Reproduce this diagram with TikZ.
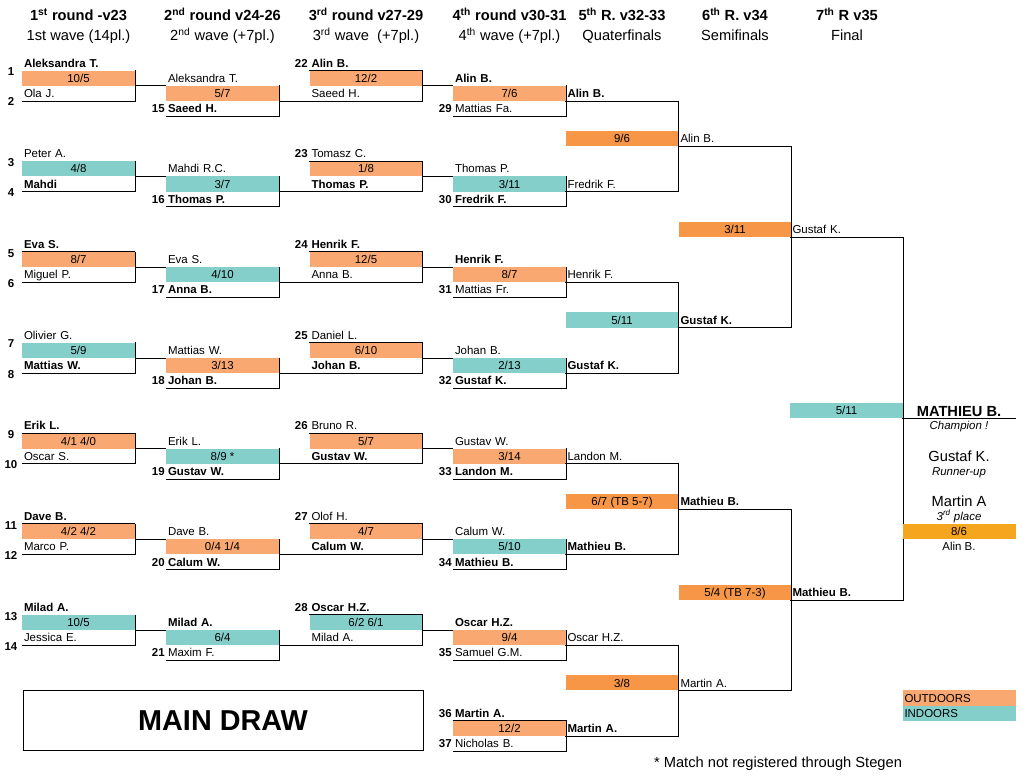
\documentclass[tikz,border=0pt]{standalone}
\usepackage{fontspec}
\setmainfont{Liberation Sans}
\usepackage{tikz}
\definecolor{MDPeach}{RGB}{248,168,112}
\definecolor{MDOrange}{RGB}{247,150,70}
\definecolor{MDTeal}{RGB}{133,207,203}
\definecolor{MDGold}{RGB}{246,165,30}
\newcommand{\namesize}{\fontsize{8.6pt}{10pt}\selectfont}
\newcommand{\headsize}{\fontsize{11pt}{13pt}\selectfont}
\newcommand{\matchbox}[7]{%
  \node[namecell] (#1t) at (#2,#3) {#5};
  \node[scorecell,fill=#4] (#1s) at (#2,#3+1) {#6};
  \node[namecell] (#1b) at (#2,#3+2) {#7};
  \draw[bline] (#1s.north east) -- (#1b.south east) -- (#1b.south west);
}

\begin{document}
\begin{tikzpicture}[x=0.75pt,y=-11.34pt,
    every node/.style={inner sep=0pt,font=\namesize},
    namecell/.style={minimum height=11.34pt,text width=81.75pt,inner xsep=1.5pt,align=left,text height=7.5pt,text depth=1.34pt},
    scorecell/.style={minimum width=84.75pt,minimum height=11.34pt,text height=7.5pt,text depth=1.34pt},
    seed/.style={font=\namesize\bfseries,text height=7.5pt,text depth=1.34pt},
    bline/.style={line width=0.75pt,black},
    head/.style={font=\headsize\bfseries,anchor=base},
    wave/.style={font=\headsize,anchor=base},
    podium/.style={font=\headsize,text height=9pt,text depth=1.12pt},
    note/.style={font=\namesize\itshape,text height=7.5pt,text depth=1.34pt}]
  \useasboundingbox (0,-4.167) rectangle (1030,47.62);

  \node[head] (h1) at (78.5,-2.8) {1\textsuperscript{st} round -v23};
  \node[head] (h2) at (222.5,-2.8) {2\textsuperscript{nd} round v24-26};
  \node[head] (h3) at (366,-2.8) {3\textsuperscript{rd} round v27-29};
  \node[head] (h4) at (509.5,-2.8) {4\textsuperscript{th} round v30-31};
  \node[head] (h5) at (622,-2.8) {5\textsuperscript{th} R. v32-33};
  \node[head] (h6) at (735,-2.8) {6\textsuperscript{th} R. v34};
  \node[head] (h7) at (847,-2.8) {7\textsuperscript{th} R v35};
  \node[wave] (w1) at (78.5,-1.475) {1st wave (14pl.)};
  \node[wave] (w2) at (222.5,-1.475) {2\textsuperscript{nd} wave (+7pl.)};
  \node[wave] (w3) at (366,-1.475) {3\textsuperscript{rd} wave\ \ (+7pl.)};
  \node[wave] (w4) at (509.5,-1.475) {4\textsuperscript{th} wave (+7pl.)};
  \node[wave] (w5) at (622,-1.475) {Quaterfinals};
  \node[wave] (w6) at (735,-1.475) {Semifinals};
  \node[wave] (w7) at (847,-1.475) {Final};

  \matchbox{r1a}{78.5}{0}{MDPeach}{\bfseries Aleksandra T.}{10/5}{Ola J.}
  \matchbox{r1b}{78.5}{6}{MDTeal}{Peter A.}{4/8}{\bfseries Mahdi}
  \matchbox{r1c}{78.5}{12}{MDPeach}{\bfseries Eva S.}{8/7}{Miguel P.}
  \matchbox{r1d}{78.5}{18}{MDTeal}{Olivier G.}{5/9}{\bfseries Mattias W.}
  \matchbox{r1e}{78.5}{24}{MDPeach}{\bfseries Erik L.}{4/1 4/0}{Oscar S.}
  \matchbox{r1f}{78.5}{30}{MDPeach}{\bfseries Dave B.}{4/2 4/2}{Marco P.}
  \matchbox{r1g}{78.5}{36}{MDTeal}{\bfseries Milad A.}{10/5}{Jessica E.}
  \draw[bline] (r1cs.north west) -- (r1cs.north east);
  \draw[bline] (r1es.north west) -- (r1es.north east);
  \draw[bline] (r1fs.north west) -- (r1fs.north east);
  \node[seed] (s1) at (11,0.57) {1};
  \node[seed] (s2) at (11,2.57) {2};
  \node[seed] (s3) at (11,6.57) {3};
  \node[seed] (s4) at (11,8.57) {4};
  \node[seed] (s5) at (11,12.57) {5};
  \node[seed] (s6) at (11,14.57) {6};
  \node[seed] (s7) at (11,18.57) {7};
  \node[seed] (s8) at (11,20.57) {8};
  \node[seed] (s9) at (11,24.57) {9};
  \node[seed] (s10) at (11,26.57) {10};
  \node[seed] (s11) at (11,30.57) {11};
  \node[seed] (s12) at (11,32.57) {12};
  \node[seed] (s13) at (11,36.57) {13};
  \node[seed] (s14) at (11,38.57) {14};

  \matchbox{r2a}{222.5}{1}{MDPeach}{Aleksandra T.}{5/7}{\bfseries Saeed H.}
  \matchbox{r2b}{222.5}{7}{MDTeal}{Mahdi R.C.}{3/7}{\bfseries Thomas P.}
  \matchbox{r2c}{222.5}{13}{MDTeal}{Eva S.}{4/10}{\bfseries Anna B.}
  \matchbox{r2d}{222.5}{19}{MDPeach}{Mattias W.}{3/13}{\bfseries Johan B.}
  \matchbox{r2e}{222.5}{25}{MDTeal}{Erik L.}{8/9 *}{\bfseries Gustav W.}
  \matchbox{r2f}{222.5}{31}{MDPeach}{Dave B.}{0/4 1/4}{\bfseries Calum W.}
  \matchbox{r2g}{222.5}{37}{MDTeal}{\bfseries Milad A.}{6/4}{Maxim F.}
  \node[seed,anchor=east] (s15) at (165,3) {15};
  \node[seed,anchor=east] (s16) at (165,9) {16};
  \node[seed,anchor=east] (s17) at (165,15) {17};
  \node[seed,anchor=east] (s18) at (165,21) {18};
  \node[seed,anchor=east] (s19) at (165,27) {19};
  \node[seed,anchor=east] (s20) at (165,33) {20};
  \node[seed,anchor=east] (s21) at (165,39) {21};

  \matchbox{r3a}{366}{0}{MDPeach}{\bfseries Alin B.}{12/2}{Saeed H.}
  \matchbox{r3b}{366}{6}{MDPeach}{Tomasz C.}{1/8}{\bfseries Thomas P.}
  \matchbox{r3c}{366}{12}{MDPeach}{\bfseries Henrik F.}{12/5}{Anna B.}
  \matchbox{r3d}{366}{18}{MDPeach}{Daniel L.}{6/10}{\bfseries Johan B.}
  \matchbox{r3e}{366}{24}{MDPeach}{Bruno R.}{5/7}{\bfseries Gustav W.}
  \matchbox{r3f}{366}{30}{MDPeach}{Olof H.}{4/7}{\bfseries Calum W.}
  \matchbox{r3g}{366}{36}{MDTeal}{\bfseries Oscar H.Z.}{6/2 6/1}{Milad A.}
  \draw[bline] (r3as.north west) -- (r3as.north east);
  \draw[bline] (r3bs.north west) -- (r3bs.north east);
  \draw[bline] (r3cs.north west) -- (r3cs.north east);
  \draw[bline] (r3ds.north west) -- (r3ds.north east);
  \draw[bline] (r3es.north west) -- (r3es.north east);
  \draw[bline] (r3fs.north west) -- (r3fs.north east);
  \draw[bline] (r3gs.north west) -- (r3gs.north east);
  \node[seed,anchor=east] (s22) at (308,0) {22};
  \node[seed,anchor=east] (s23) at (308,6) {23};
  \node[seed,anchor=east] (s24) at (308,12) {24};
  \node[seed,anchor=east] (s25) at (308,18) {25};
  \node[seed,anchor=east] (s26) at (308,24) {26};
  \node[seed,anchor=east] (s27) at (308,30) {27};
  \node[seed,anchor=east] (s28) at (308,36) {28};

  \matchbox{r4a}{509.5}{1}{MDPeach}{\bfseries Alin B.}{7/6}{Mattias Fa.}
  \matchbox{r4b}{509.5}{7}{MDTeal}{Thomas P.}{3/11}{\bfseries Fredrik F.}
  \matchbox{r4c}{509.5}{13}{MDPeach}{\bfseries Henrik F.}{8/7}{Mattias Fr.}
  \matchbox{r4d}{509.5}{19}{MDTeal}{Johan B.}{2/13}{\bfseries Gustaf K.}
  \matchbox{r4e}{509.5}{25}{MDPeach}{Gustav W.}{3/14}{\bfseries Landon M.}
  \matchbox{r4f}{509.5}{31}{MDTeal}{Calum W.}{5/10}{\bfseries Mathieu B.}
  \matchbox{r4g}{509.5}{37}{MDPeach}{\bfseries Oscar H.Z.}{9/4}{Samuel G.M.}
  \matchbox{r4h}{509.5}{43}{MDPeach}{\bfseries Martin A.}{12/2}{Nicholas B.}
  \draw[bline] (r4hs.north west) -- (r4hs.north east);
  \node[seed,anchor=east] (s29) at (452,3) {29};
  \node[seed,anchor=east] (s30) at (452,9) {30};
  \node[seed,anchor=east] (s31) at (452,15) {31};
  \node[seed,anchor=east] (s32) at (452,21) {32};
  \node[seed,anchor=east] (s33) at (452,27) {33};
  \node[seed,anchor=east] (s34) at (452,33) {34};
  \node[seed,anchor=east] (s35) at (452,39) {35};
  \node[seed,anchor=east] (s36) at (452,43) {36};
  \node[seed,anchor=east] (s37) at (452,45) {37};

  \draw[bline] (r1as.south east) -- (r1as.south east -| r2as.west);
  \draw[bline] (r1bs.south east) -- (r1bs.south east -| r2bs.west);
  \draw[bline] (r1cs.south east) -- (r1cs.south east -| r2cs.west);
  \draw[bline] (r1ds.south east) -- (r1ds.south east -| r2ds.west);
  \draw[bline] (r1es.south east) -- (r1es.south east -| r2es.west);
  \draw[bline] (r1fs.south east) -- (r1fs.south east -| r2fs.west);
  \draw[bline] (r1gs.south east) -- (r1gs.south east -| r2gs.west);
  \draw[bline] (r2as.south east) -- (r3ab.south west);
  \draw[bline] (r2bs.south east) -- (r3bb.south west);
  \draw[bline] (r2cs.south east) -- (r3cb.south west);
  \draw[bline] (r2ds.south east) -- (r3db.south west);
  \draw[bline] (r2es.south east) -- (r3eb.south west);
  \draw[bline] (r2fs.south east) -- (r3fb.south west);
  \draw[bline] (r2gs.south east) -- (r3gb.south west);
  \draw[bline] (r3as.south east) -- (r3as.south east -| r4as.west);
  \draw[bline] (r3bs.south east) -- (r3bs.south east -| r4bs.west);
  \draw[bline] (r3cs.south east) -- (r3cs.south east -| r4cs.west);
  \draw[bline] (r3ds.south east) -- (r3ds.south east -| r4ds.west);
  \draw[bline] (r3es.south east) -- (r3es.south east -| r4es.west);
  \draw[bline] (r3fs.south east) -- (r3fs.south east -| r4fs.west);
  \draw[bline] (r3gs.south east) -- (r3gs.south east -| r4gs.west);

  \node[namecell] (q1a) at (622,2) {\bfseries Alin B.};
  \node[namecell] (q1b) at (622,8) {Fredrik F.};
  \node[scorecell,fill=MDOrange] (q1s) at (622,5) {9/6};
  \node[namecell] (q1w) at (735,5) {Alin B.};
  \draw[bline] (q1a.south west) -- (q1a.south east) -- (q1b.south east) -- (q1b.south west);
  \node[namecell] (q2a) at (622,14) {Henrik F.};
  \node[namecell] (q2b) at (622,20) {\bfseries Gustaf K.};
  \node[scorecell,fill=MDTeal] (q2s) at (622,17) {5/11};
  \node[namecell] (q2w) at (735,17) {\bfseries Gustaf K.};
  \draw[bline] (q2a.south west) -- (q2a.south east) -- (q2b.south east) -- (q2b.south west);
  \node[namecell] (q3a) at (622,26) {Landon M.};
  \node[namecell] (q3b) at (622,32) {\bfseries Mathieu B.};
  \node[scorecell,fill=MDOrange] (q3s) at (622,29) {6/7 (TB 5-7)};
  \node[namecell] (q3w) at (735,29) {\bfseries Mathieu B.};
  \draw[bline] (q3a.south west) -- (q3a.south east) -- (q3b.south east) -- (q3b.south west);
  \node[namecell] (q4a) at (622,38) {Oscar H.Z.};
  \node[namecell] (q4b) at (622,44) {\bfseries Martin A.};
  \node[scorecell,fill=MDOrange] (q4s) at (622,41) {3/8};
  \node[namecell] (q4w) at (735,41) {Martin A.};
  \draw[bline] (q4a.south west) -- (q4a.south east) -- (q4b.south east) -- (q4b.south west);

  \node[scorecell,fill=MDOrange] (sf1s) at (735,11) {3/11};
  \node[namecell] (sf1w) at (847,11) {Gustaf K.};
  \draw[bline] (q1w.south west) -- (q1w.south east) -- (q2w.south east) -- (q2w.south west);
  \node[scorecell,fill=MDOrange] (sf2s) at (735,35) {5/4 (TB 7-3)};
  \node[namecell] (sf2w) at (847,35) {\bfseries Mathieu B.};
  \draw[bline] (q3w.south west) -- (q3w.south east) -- (q4w.south east) -- (q4w.south west);

  \node[scorecell,fill=MDTeal] (fs) at (846.5,23) {5/11};
  \node[scorecell,font=\headsize\bfseries,text height=9pt,text depth=1.12pt] (champ) at (959,23) {MATHIEU B.};
  \draw[bline] (sf1w.south west) -- (sf1w.south east) -- (sf2w.south east) -- (sf2w.south west);
  \draw[bline] (champ.south west) -- (champ.south east);
  \node[note] (champnote) at (959,24) {Champion !};
  \node[podium] (second) at (959,26) {Gustaf K.};
  \node[note] (secondnote) at (959,27) {Runner-up};
  \node[podium] (third) at (959,29) {Martin A};
  \node[note] (thirdnote) at (959,30) {3\textsuperscript{rd} place};
  \node[scorecell,fill=MDGold] (bronze) at (959,31) {8/6};
  \node[scorecell] (fourth) at (959,32) {Alin B.};

  \node[namecell,fill=MDPeach] (outdoors) at (959,42) {OUTDOORS};
  \node[namecell,fill=MDTeal] (indoors) at (959,43) {INDOORS};

  \node[draw,line width=0.75pt,minimum width=300pt,minimum height=45.36pt,font=\fontsize{21.6pt}{26pt}\selectfont\bfseries] (title) at (223,43.5) {MAIN DRAW};
  \node[font=\headsize,anchor=base] (footnote) at (778,46.6) {* Match not registered through Stegen};
\end{tikzpicture}
\end{document}
